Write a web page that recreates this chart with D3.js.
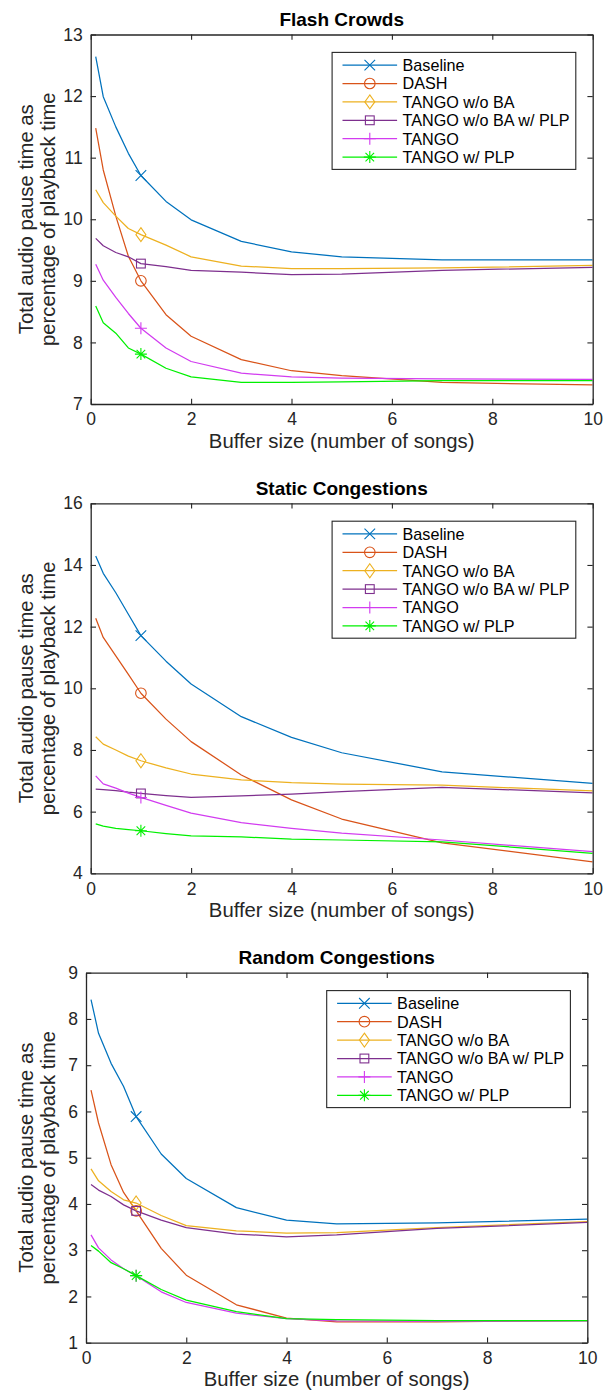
<!DOCTYPE html>
<html>
<head>
<meta charset="utf-8">
<script src="https://cdn.jsdelivr.net/npm/d3@7/dist/d3.min.js"></script>
<style>
  body { margin: 0; background: #fff; }
  svg text { font-family: "Liberation Sans", Arial, Helvetica, sans-serif; fill: #262626; }
</style>
</head>
<body>
<div id="chart"></div>
<script>
// buffer sizes (x) shared by all three panels
const bufferSizes = [0.1, 0.25, 0.5, 0.75, 1, 1.5, 2, 3, 4, 5, 7, 10];
const seriesNames = ["Baseline", "DASH", "TANGO w/o BA", "TANGO w/o BA w/ PLP", "TANGO", "TANGO w/ PLP"];
const seriesColors = ["#0072BD", "#D95319", "#EDB120", "#7E2F8E", "#d23cf0", "#00f000"];
const seriesMarkers = ["x", "o", "d", "s", "+", "*"];
const xTicks = [0, 2, 4, 6, 8, 10];

// Flash Crowds
const flashBaseline = [12.64, 11.99, 11.50, 11.07, 10.71, 10.29, 9.99, 9.64, 9.47, 9.39, 9.34, 9.34];
const flashDash = [11.48, 10.80, 10.05, 9.40, 9.00, 8.45, 8.10, 7.72, 7.54, 7.46, 7.35, 7.31];
const flashWoBA = [10.48, 10.27, 10.05, 9.85, 9.75, 9.58, 9.39, 9.24, 9.20, 9.20, 9.21, 9.25];
const flashWoBAPlp = [9.69, 9.57, 9.46, 9.39, 9.28, 9.23, 9.17, 9.14, 9.10, 9.11, 9.17, 9.22];
const flashTango = [9.27, 9.01, 8.73, 8.47, 8.23, 7.91, 7.69, 7.50, 7.44, 7.42, 7.41, 7.40];
const flashTangoPlp = [8.59, 8.32, 8.15, 7.91, 7.81, 7.58, 7.44, 7.35, 7.35, 7.36, 7.38, 7.38];

// Static Congestions
const staticBaseline = [14.29, 13.73, 13.10, 12.40, 11.71, 10.88, 10.14, 9.08, 8.41, 7.91, 7.29, 6.92];
const staticDash = [12.27, 11.65, 11.05, 10.45, 9.84, 9.00, 8.27, 7.19, 6.38, 5.76, 4.99, 4.37];
const staticWoBA = [8.43, 8.19, 8.00, 7.80, 7.65, 7.42, 7.22, 7.03, 6.94, 6.89, 6.86, 6.67];
const staticWoBAPlp = [6.73, 6.71, 6.68, 6.63, 6.59, 6.52, 6.46, 6.51, 6.57, 6.65, 6.79, 6.61];
const staticTango = [7.16, 6.90, 6.76, 6.60, 6.46, 6.20, 5.95, 5.64, 5.46, 5.30, 5.08, 4.70];
const staticTangoPlp = [5.60, 5.53, 5.46, 5.42, 5.38, 5.29, 5.21, 5.18, 5.11, 5.08, 5.02, 4.65];

// Random Congestions
const randomBaseline = [8.42, 7.69, 7.04, 6.54, 5.89, 5.08, 4.55, 3.92, 3.65, 3.57, 3.59, 3.67];
const randomDash = [6.46, 5.75, 4.85, 4.25, 3.85, 3.04, 2.46, 1.82, 1.53, 1.45, 1.45, 1.48];
const randomWoBA = [4.76, 4.50, 4.27, 4.09, 4.02, 3.75, 3.53, 3.42, 3.37, 3.38, 3.49, 3.62];
const randomWoBAPlp = [4.42, 4.30, 4.16, 3.98, 3.85, 3.65, 3.49, 3.35, 3.29, 3.33, 3.47, 3.60];
const randomTango = [3.33, 3.05, 2.79, 2.60, 2.45, 2.10, 1.87, 1.64, 1.52, 1.47, 1.46, 1.47];
const randomTangoPlp = [3.10, 2.98, 2.73, 2.60, 2.45, 2.15, 1.92, 1.67, 1.52, 1.50, 1.48, 1.48];

const width = 604, height = 1393;
const axisColor = "#262626";

const panels = [
  { title: "Flash Crowds", box: { left: 90.7, right: 592.7, top: 34.5, bottom: 404 },
    yDomain: [7, 13], yTicks: d3.range(7, 14, 1),
    series: [flashBaseline, flashDash, flashWoBA, flashWoBAPlp, flashTango, flashTangoPlp] },
  { title: "Static Congestions", box: { left: 90.7, right: 592.7, top: 503.3, bottom: 873.3 },
    yDomain: [4, 16], yTicks: d3.range(4, 17, 2),
    series: [staticBaseline, staticDash, staticWoBA, staticWoBAPlp, staticTango, staticTangoPlp] },
  { title: "Random Congestions", box: { left: 86, right: 587.3, top: 972.7, bottom: 1342.7 },
    yDomain: [1, 9], yTicks: d3.range(1, 10, 1),
    series: [randomBaseline, randomDash, randomWoBA, randomWoBAPlp, randomTango, randomTangoPlp] }
];

const svg = d3.select("#chart").append("svg")
  .attr("width", width)
  .attr("height", height)
  .attr("viewBox", `0 0 ${width} ${height}`);

svg.append("rect").attr("width", width).attr("height", height).attr("fill", "#fff");

// MATLAB-like markers centred on (cx, cy)
function drawMarker(g, type, cx, cy, color) {
  const m = g.append("g").attr("transform", `translate(${cx},${cy})`)
    .attr("fill", "none").attr("stroke", color).attr("stroke-width", 1.1);
  if (type === "x") {
    const s = 5.3;
    m.append("path").attr("d", `M${-s},${-s}L${s},${s}M${-s},${s}L${s},${-s}`);
  } else if (type === "o") {
    m.append("circle").attr("r", 5.3);
  } else if (type === "d") {
    m.append("path").attr("d", "M0,-7L5,0L0,7L-5,0Z");
  } else if (type === "s") {
    m.append("rect").attr("x", -4.4).attr("y", -4.4).attr("width", 8.8).attr("height", 8.8);
  } else if (type === "+") {
    const s = 6;
    m.append("path").attr("d", `M${-s},0L${s},0M0,${-s}L0,${s}`);
  } else if (type === "*") {
    const s = 6, d = 4.3;
    m.append("path").attr("d", `M${-s},0L${s},0M0,${-s}L0,${s}M${-d},${-d}L${d},${d}M${-d},${d}L${d},${-d}`);
  }
}

panels.forEach((p, pi) => {
  const b = p.box;
  const g = svg.append("g").attr("class", `panel-${pi}`);

  const x = d3.scaleLinear().domain([0, 10]).range([b.left, b.right]);
  const y = d3.scaleLinear().domain(p.yDomain).range([b.bottom, b.top]);

  const clipId = `clip-${pi}`;
  svg.append("defs").append("clipPath").attr("id", clipId)
    .append("rect")
    .attr("x", b.left).attr("y", b.top)
    .attr("width", b.right - b.left).attr("height", b.bottom - b.top);

  // lines
  const line = d3.line().x((d, i) => x(bufferSizes[i])).y(d => y(d));
  const lines = g.append("g").attr("clip-path", `url(#${clipId})`);
  p.series.forEach((vals, si) => {
    lines.append("path")
      .datum(vals)
      .attr("fill", "none")
      .attr("stroke", seriesColors[si])
      .attr("stroke-width", 1.25)
      .attr("stroke-linejoin", "round")
      .attr("d", line);
  });

  // one marker per series, at buffer size 1
  const markIdx = bufferSizes.indexOf(1);
  p.series.forEach((vals, si) => {
    drawMarker(g, seriesMarkers[si], x(bufferSizes[markIdx]), y(vals[markIdx]), seriesColors[si]);
  });

  // axes (MATLAB style, ticks inside on all four sides)
  const tickLen = 5.3;
  const fmt = d3.format("~g");
  const xAxisB = d3.axisBottom(x).tickValues(xTicks).tickFormat(fmt).tickSize(-tickLen).tickPadding(9).tickSizeOuter(0);
  const xAxisT = d3.axisTop(x).tickValues(xTicks).tickSize(-tickLen).tickFormat("").tickSizeOuter(0);
  const yAxisL = d3.axisLeft(y).tickValues(p.yTicks).tickFormat(fmt).tickSize(-tickLen).tickPadding(8).tickSizeOuter(0);
  const yAxisR = d3.axisRight(y).tickValues(p.yTicks).tickSize(-tickLen).tickFormat("").tickSizeOuter(0);

  const axes = [
    g.append("g").attr("transform", `translate(0,${b.bottom})`).call(xAxisB),
    g.append("g").attr("transform", `translate(0,${b.top})`).call(xAxisT),
    g.append("g").attr("transform", `translate(${b.left},0)`).call(yAxisL),
    g.append("g").attr("transform", `translate(${b.right},0)`).call(yAxisR)
  ];
  axes.forEach(a => {
    a.select(".domain").attr("stroke", axisColor).attr("stroke-width", 1.3);
    a.selectAll(".tick line").attr("stroke", axisColor).attr("stroke-width", 1.1);
    a.selectAll(".tick text")
      .attr("fill", axisColor)
      .style("font-family", '"Liberation Sans", Arial, sans-serif')
      .style("font-size", "17.5px");
  });

  // title
  g.append("text")
    .attr("x", (b.left + b.right) / 2)
    .attr("y", b.top - 8.5)
    .attr("text-anchor", "middle")
    .style("font-size", "19px")
    .style("font-weight", "bold")
    .style("fill", "#000")
    .text(p.title);

  // x label
  g.append("text")
    .attr("x", (b.left + b.right) / 2)
    .attr("y", b.bottom + 43.5)
    .attr("text-anchor", "middle")
    .style("font-size", "20.3px")
    .text("Buffer size (number of songs)");

  // y label, two lines
  const cy = (b.top + b.bottom) / 2;
  g.append("text")
    .attr("text-anchor", "middle")
    .attr("transform", `translate(33,${cy}) rotate(-90)`)
    .style("font-size", "20.3px")
    .text("Total audio pause time as");
  g.append("text")
    .attr("text-anchor", "middle")
    .attr("transform", `translate(55,${cy}) rotate(-90)`)
    .style("font-size", "20.3px")
    .text("percentage of playback time");

  // legend
  const lw = 243.7, lh = 117;
  const lx = b.right - 16.9 - lw, ly = b.top + 17.9;
  const lg = g.append("g").attr("class", "legend");
  lg.append("rect")
    .attr("x", lx).attr("y", ly).attr("width", lw).attr("height", lh)
    .attr("fill", "#fff").attr("stroke", axisColor).attr("stroke-width", 1.1);
  seriesNames.forEach((name, si) => {
    const ry = ly + 12.7 + si * 18.4;
    lg.append("line")
      .attr("x1", lx + 10.4).attr("x2", lx + 65)
      .attr("y1", ry).attr("y2", ry)
      .attr("stroke", seriesColors[si]).attr("stroke-width", 1.25);
    drawMarker(lg, seriesMarkers[si], lx + 37.7, ry, seriesColors[si]);
    lg.append("text")
      .attr("x", lx + 70.4)
      .attr("y", ry + 5.8)
      .style("font-size", "16.2px")
      .style("fill", "#000")
      .text(name);
  });
});
</script>
</body>
</html>
